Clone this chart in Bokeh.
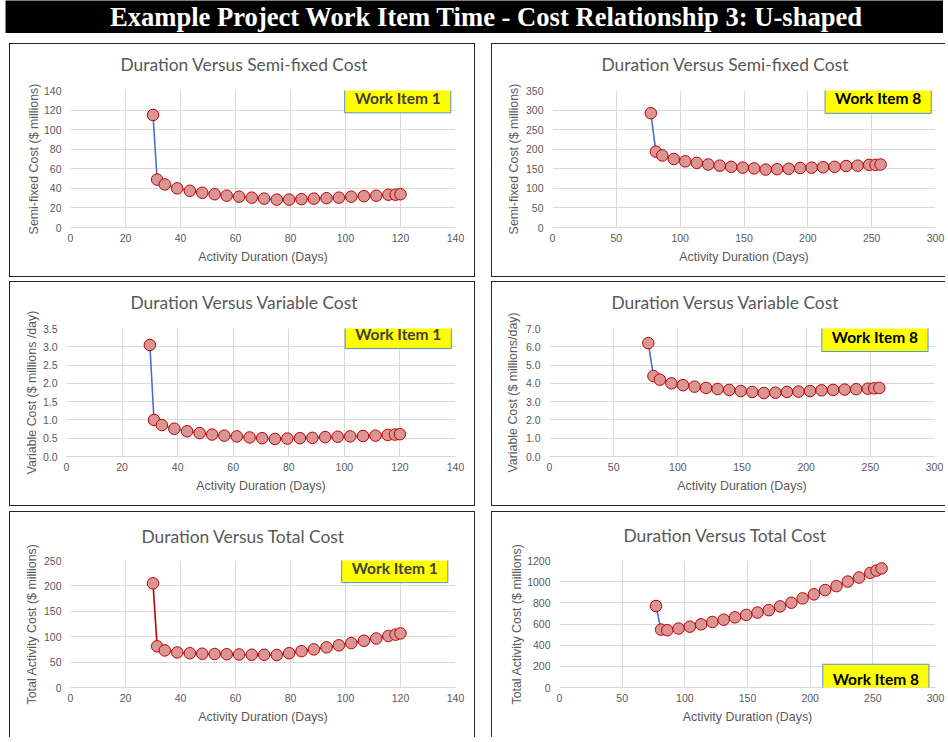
from bokeh.plotting import figure
from bokeh.models import Range1d, FixedTicker, NumeralTickFormatter, Label, Spacer, Title
from bokeh.layouts import column, row
from bokeh.core.properties import value
from bokeh.embed import file_html
from bokeh.resources import INLINE

TITLE = "Example Project Work Item Time - Cost Relationship 3: U-shaped"

# ---- data ----
duration_1 = [30, 31.5, 34.3, 38.8, 43.4, 47.9, 52.4, 56.8, 61.3, 65.9, 70.4, 75.0,
              79.5, 84.0, 88.5, 93.1, 97.6, 102.1, 106.7, 111.2, 115.6, 118.2, 120.0]
semi_fixed_1 = [115, 49, 44, 40, 37.5, 35.5, 34, 32.5, 31.5, 30.5, 29.5, 28.5,
                28.5, 29, 29.5, 30, 30.5, 31.5, 32, 32.5, 33.5, 33.5, 34]
variable_1 = [3.05, 1.0, 0.86, 0.76, 0.69, 0.64, 0.6, 0.57, 0.55, 0.52, 0.5, 0.48,
              0.49, 0.5, 0.51, 0.53, 0.54, 0.55, 0.56, 0.57, 0.59, 0.6, 0.61]
total_1 = [205, 81, 73, 69, 67.5, 66.5, 66, 65.5, 65, 64.5, 64.5, 64,
           67.5, 71.5, 75, 79, 83, 87.5, 92, 96.5, 101.5, 104, 106.5]

duration_8 = [77, 81, 86, 95, 104, 113, 122, 131, 140, 149, 158, 167,
              176, 185, 194, 203, 212, 221, 230, 239, 248, 253, 257]
semi_fixed_8 = [292, 194, 184, 175, 169, 165, 161, 158, 155, 153, 151, 148,
                149, 150, 152, 153, 154, 155, 157, 158, 160, 160, 161]
variable_8 = [6.2, 4.4, 4.2, 4.0, 3.9, 3.82, 3.75, 3.69, 3.64, 3.58, 3.53, 3.47,
              3.49, 3.53, 3.55, 3.58, 3.62, 3.64, 3.66, 3.68, 3.71, 3.73, 3.75]
total_8 = [770, 547, 541, 557, 575, 597, 619, 641, 663, 686, 708, 731,
           766, 801, 842, 880, 921, 958, 1001, 1039, 1083, 1105, 1125]

chart_titles = ["Duration Versus Semi-fixed Cost", "Duration Versus Variable Cost",
                "Duration Versus Total Cost"]
x_title = "Activity Duration (Days)"
y_titles_1 = ["Semi-fixed Cost ($ millions)", "Variable Cost ($ millions /day)",
              "Total Activity Cost ($ millions)"]
y_titles_8 = ["Semi-fixed Cost ($ millions)", "Variable Cost ($ millions/day)",
              "Total Activity Cost ($ millions)"]
item_labels = ["Work Item 1", "Work Item 8"]

x_ticks_1 = [0, 20, 40, 60, 80, 100, 120, 140]
x_ticks_8 = [0, 50, 100, 150, 200, 250, 300]
y_ticks_semi_1 = [0, 20, 40, 60, 80, 100, 120, 140]
y_ticks_semi_8 = [0, 50, 100, 150, 200, 250, 300, 350]
y_ticks_var_1 = [0, 0.5, 1.0, 1.5, 2.0, 2.5, 3.0, 3.5]
y_ticks_var_8 = [0, 1, 2, 3, 4, 5, 6, 7]
y_ticks_tot_1 = [0, 50, 100, 150, 200, 250]
y_ticks_tot_8 = [0, 200, 400, 600, 800, 1000, 1200]

# ---- styles ----
BLUE = "#4472C4"
RED = "#C00000"
MARK_FILL = "#DA9694"
MARK_LINE = "#C00000"
GRID = "#D9D9D9"
TXT = "#595959"
BORDER = "1px solid #262626"
TICK_FONT = "Liberation Sans"
TITLE_FONT = "Lato"


def panel(xs, ys, line_color, x_ticks, y_ticks, y_fmt, title, ytitle, item, item_color,
          title_offset, title_gap, box_xy, w, h, ml, mr, mt, mb, borders,
          ylab_standoff):
    p = figure(width=w, height=h, output_backend="svg", toolbar_location=None, tools="",
               x_range=Range1d(x_ticks[0], x_ticks[-1]),
               y_range=Range1d(y_ticks[0], y_ticks[-1]),
               min_border_left=ml, min_border_right=mr, min_border_top=mt,
               min_border_bottom=mb)
    # empty spacer between the chart title and the plot area
    p.add_layout(Title(text=" ", text_font_size="1px", standoff=title_gap), "above")
    p.title.text = title
    p.title.align = "left"
    p.title.offset = title_offset
    p.title.text_font = TITLE_FONT
    p.title.text_font_size = "17.4px"
    p.title.text_font_style = "normal"
    p.title.text_color = TXT
    p.title.standoff = 0
    p.outline_line_color = None
    p.background_fill_color = "white"
    p.border_fill_color = "white"
    p.xaxis.ticker = FixedTicker(ticks=x_ticks)
    p.yaxis.ticker = FixedTicker(ticks=y_ticks)
    p.xgrid.ticker = FixedTicker(ticks=x_ticks)
    p.ygrid.ticker = FixedTicker(ticks=y_ticks)
    if y_fmt:
        p.yaxis.formatter = NumeralTickFormatter(format=y_fmt)
    for g in (p.xgrid, p.ygrid):
        g.grid_line_color = GRID
        g.grid_line_width = 1
    for ax in (p.xaxis, p.yaxis):
        ax.major_tick_out = 0
        ax.major_tick_in = 0
        ax.minor_tick_out = 0
        ax.minor_tick_in = 0
        ax.major_label_text_font = TICK_FONT
        ax.major_label_text_font_size = "10.5px"
        ax.major_label_text_color = TXT
        ax.axis_label_text_font = TICK_FONT
        ax.axis_label_text_font_size = "12.4px"
        ax.axis_label_text_font_style = "normal"
        ax.axis_label_text_color = TXT
    p.xaxis.axis_line_color = GRID
    p.yaxis.axis_line_color = None
    p.yaxis.major_label_standoff = 9
    p.xaxis.major_label_standoff = 6
    p.xaxis.axis_label = x_title
    p.yaxis.axis_label = ytitle
    p.xaxis.axis_label_standoff = 5
    p.yaxis.axis_label_standoff = ylab_standoff

    p.line(xs, ys, line_color=line_color, line_width=1.6)
    p.scatter(xs, ys, size=11.5, fill_color=MARK_FILL, line_color=MARK_LINE, line_width=1)

    p.add_layout(Label(x=box_xy[0], y=box_xy[1], text=item, text_align="center",
                       text_baseline="middle", text_font=TITLE_FONT,
                       text_font_size="15.5px", text_font_style="bold",
                       text_color=item_color,
                       background_fill_color="#FFFF00", background_fill_alpha=1.0,
                       border_line_color="#5B8FD0", border_line_width=1,
                       padding=dict(left=10, right=10, top=6, bottom=6)))
    st = {}
    for side in borders:
        st["border-" + side] = BORDER
    p.styles = st
    return p


LW, RW = 466, 454   # canvas widths (left / right panels)
H1, H2, H3 = 234, 225, 226

tl = panel(duration_1, semi_fixed_1, BLUE, x_ticks_1, y_ticks_semi_1, None,
           chart_titles[0], y_titles_1[0], item_labels[0], "#404040",
           50, 13, (119.0, 132.5), LW, H1, 60, 21, 46, 51,
           ["top", "left", "right", "bottom"], 0)
tr = panel(duration_8, semi_fixed_8, BLUE, x_ticks_8, y_ticks_semi_8, None,
           chart_titles[0], y_titles_8[0], item_labels[1], "#000000",
           49, 13, (255.1, 330.0), RW, H1, 60, 11, 46, 51,
           ["top", "left", "bottom"], 2)
ml_ = panel(duration_1, variable_1, BLUE, x_ticks_1, y_ticks_var_1, "0.0",
            chart_titles[1], y_titles_1[1], item_labels[0], "#404040",
            64, 13, (119.4, 3.36), LW, H2, 56, 21, 46, 51,
            ["top", "left", "right", "bottom"], 1)
mr_ = panel(duration_8, variable_8, BLUE, x_ticks_8, y_ticks_var_8, "0.0",
            chart_titles[1], y_titles_8[1], item_labels[1], "#000000",
            62, 13, (253.6, 6.56), RW, H2, 57, 12, 46, 51,
            ["top", "left", "bottom"], 3)
bl = panel(duration_1, total_1, RED, x_ticks_1, y_ticks_tot_1, None,
           chart_titles[2], y_titles_1[2], item_labels[0], "#404040",
           71, 11, (117.9, 236.0), LW, H3, 60, 21, 48, 50,
           ["top", "left", "right"], 2)
br = panel(duration_8, total_8, BLUE, x_ticks_8, y_ticks_tot_8, None,
           chart_titles[2], y_titles_8[2], item_labels[1], "#000000",
           64, 12, (252.4, 78.0), RW, H3, 67, 11, 46, 51,
           ["top", "left"], 0)

# title bar
tb = figure(width=938, height=33, output_backend="svg", toolbar_location=None, tools="",
            x_range=Range1d(0, 938), y_range=Range1d(0, 33),
            min_border_left=0, min_border_right=0, min_border_top=0, min_border_bottom=0)
tb.axis.visible = False
tb.grid.visible = False
tb.outline_line_color = None
tb.background_fill_color = "black"
tb.border_fill_color = "black"
tb.text(x=[481], y=[16.5], text=[TITLE], text_align="center", text_baseline="middle",
        text_font=value("Liberation Serif"), text_font_style="bold",
        text_font_size="26.6px", text_color="white")

layout = column(
    row(Spacer(width=5), tb),
    Spacer(height=10),
    row(Spacer(width=9), tl, Spacer(width=16), tr),
    Spacer(height=4),
    row(Spacer(width=9), ml_, Spacer(width=16), mr_),
    Spacer(height=5),
    row(Spacer(width=9), bl, Spacer(width=16), br),
)

open("out.html", "w").write(file_html(layout, INLINE))
